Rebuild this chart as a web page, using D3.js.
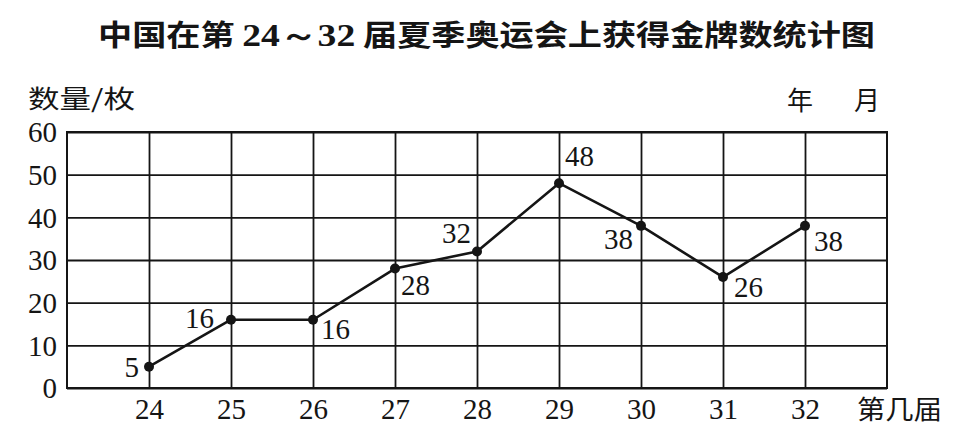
<!DOCTYPE html>
<html>
<head>
<meta charset="utf-8">
<script src="https://cdn.jsdelivr.net/npm/d3@7"></script>
<style>
  body { margin: 0; background: #fff; }
  svg { display: block; }
</style>
</head>
<body>
<svg id="chart" width="956" height="432"></svg>
<script>
// data
const editions = [24, 25, 26, 27, 28, 29, 30, 31, 32]
const golds = [5, 16, 16, 28, 32, 48, 38, 26, 38]
const yTicks = [0, 10, 20, 30, 40, 50, 60]

const titleText = "中国在第 24～32 届夏季奥运会上获得金牌数统计图"
const yLabel = "数量/枚"
const xLabel = "第几届"

const ink = "#151515"
const serif = "'Liberation Serif', 'DejaVu Serif', serif"
const cjk = "'Noto Sans CJK SC', sans-serif"

const svg = d3.select("#chart")

const x = d3.scaleLinear().domain([23, 33]).range([67, 887])
const y = d3.scaleLinear().domain([0, 60]).range([388, 132])

// title, digits set in a serif like the print
const title = svg.append("text")
    .attr("x", 98)
    .attr("y", 46)
    .attr("textLength", 777)
    .attr("lengthAdjust", "spacingAndGlyphs")
    .attr("font-weight", "bold")
    .attr("font-size", 29)
    .attr("fill", ink)
title.append("tspan").attr("font-family", cjk).text("中国在第 ")
title.append("tspan").attr("font-family", serif).attr("font-size", 32).text("24～32")
title.append("tspan").attr("font-family", cjk).text(" 届夏季奥运会上获得金牌数统计图")

// grid: vertical lines at each edition, horizontal at each ten
svg.append("g")
    .attr("transform", "translate(0," + y(0) + ")")
    .call(d3.axisBottom(x).tickValues(editions).tickSize(-(y(0) - y(60))).tickFormat(d => d))
    .call(g => g.select(".domain").remove())
    .call(g => g.selectAll("line").attr("stroke", ink).attr("stroke-width", 1.8))
    .call(g => g.selectAll("text")
        .attr("font-family", serif)
        .attr("font-size", 29)
        .attr("fill", ink)
        .attr("y", 10)
        .attr("dy", "0.71em"))

svg.append("g")
    .attr("transform", "translate(" + x(23) + ",0)")
    .call(d3.axisLeft(y).tickValues(yTicks).tickSize(-(x(33) - x(23))).tickFormat(d => d))
    .call(g => g.select(".domain").remove())
    .call(g => g.selectAll("line").attr("stroke", ink).attr("stroke-width", 1.8))
    .call(g => g.selectAll("text")
        .attr("font-family", serif)
        .attr("font-size", 29)
        .attr("fill", ink)
        .attr("x", -10)
        .attr("dy", "0.34em"))

// frame
svg.append("rect")
    .attr("x", x(23))
    .attr("y", y(60))
    .attr("width", x(33) - x(23))
    .attr("height", y(0) - y(60))
    .attr("fill", "none")
    .attr("stroke", ink)
    .attr("stroke-width", 2)

// axis captions
svg.append("text")
    .attr("x", 28).attr("y", 108)
    .attr("font-family", cjk).attr("font-size", 25)
    .attr("textLength", 107).attr("lengthAdjust", "spacingAndGlyphs")
    .attr("fill", ink)
    .text(yLabel)

svg.append("text")
    .attr("x", 787).attr("y", 110)
    .attr("font-family", cjk).attr("font-size", 26)
    .attr("fill", ink)
    .text("年")
svg.append("text")
    .attr("x", 854).attr("y", 110)
    .attr("font-family", cjk).attr("font-size", 26)
    .attr("fill", ink)
    .text("月")

svg.append("text")
    .attr("x", 857).attr("y", 419)
    .attr("font-family", cjk).attr("font-size", 26)
    .attr("textLength", 85).attr("lengthAdjust", "spacingAndGlyphs")
    .attr("fill", ink)
    .text(xLabel)

// the line
const pts = editions.map((e, i) => ({ e: e, v: golds[i] }))

svg.append("path")
    .datum(pts)
    .attr("fill", "none")
    .attr("stroke", ink)
    .attr("stroke-width", 2.6)
    .attr("stroke-linejoin", "round")
    .attr("d", d3.line().x(d => x(d.e)).y(d => y(d.v)))

svg.selectAll("circle.pt")
    .data(pts)
    .enter()
    .append("circle")
    .attr("class", "pt")
    .attr("cx", d => x(d.e))
    .attr("cy", d => y(d.v))
    .attr("r", 5)
    .attr("fill", ink)

// where each value label sits relative to its point
const labelPlace = [
    { anchor: "end", dx: -10, dy: 10 },
    { anchor: "end", dx: -17, dy: 8 },
    { anchor: "start", dx: 8, dy: 19 },
    { anchor: "start", dx: 6, dy: 26 },
    { anchor: "end", dx: -6, dy: -8 },
    { anchor: "start", dx: 6, dy: -17 },
    { anchor: "end", dx: -8, dy: 23 },
    { anchor: "start", dx: 11, dy: 20 },
    { anchor: "start", dx: 9, dy: 25 }
]

svg.selectAll("text.val")
    .data(pts)
    .enter()
    .append("text")
    .attr("class", "val")
    .attr("x", (d, i) => x(d.e) + labelPlace[i].dx)
    .attr("y", (d, i) => y(d.v) + labelPlace[i].dy)
    .attr("text-anchor", (d, i) => labelPlace[i].anchor)
    .attr("font-family", serif)
    .attr("font-size", 29)
    .attr("fill", ink)
    .text(d => d.v)
</script>
</body>
</html>
